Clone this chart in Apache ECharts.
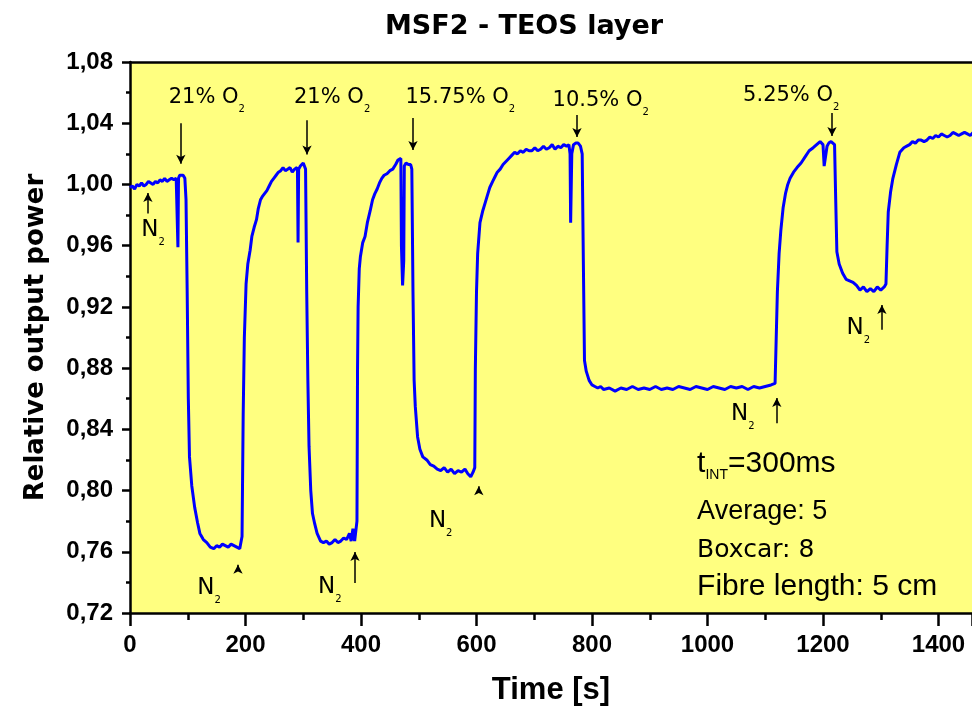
<!DOCTYPE html>
<html>
<head>
<meta charset="utf-8">
<script src="https://cdn.jsdelivr.net/npm/echarts@6/dist/echarts.min.js"></script>
<style>
  html, body { margin: 0; padding: 0; background: #fff; }
  #main { width: 972px; height: 713px; }
</style>
</head>
<body>
<div id="main"></div>
<script>
// time [s] and relative output power
var time = [
  0, 4, 8, 12, 16, 20, 24, 28, 32, 36, 40, 44, 48, 52, 56, 60, 64, 68, 72, 76, 80, 82, 83, 84, 86, 89, 92, 95,
  97, 99, 101, 103, 107, 112, 117, 121, 127, 133, 139, 145, 150, 155, 160, 165, 170, 175, 180, 185, 190, 192,
  194, 196, 198, 201, 204, 208, 211, 215, 219, 222, 226, 229, 233, 237, 241, 245, 249, 253, 257, 261, 265, 269,
  273, 277, 281, 285, 289, 290, 291, 292, 295, 298, 300, 302, 304,
  306, 308, 310, 313, 316, 320, 324, 330, 335, 340, 345, 350, 355, 360, 365, 370, 375, 380, 383, 386, 389, 392,
  393, 394, 395, 397, 399, 403, 407, 411, 416, 420, 424, 428, 432, 436, 440, 445, 450, 455, 460, 464, 467, 469,
  470, 472, 474, 475, 478, 482, 486, 488,
  490, 492, 494, 498, 502, 507, 514, 520, 526, 532, 538, 544, 550, 556, 562, 568, 574, 580, 585, 590, 594, 597,
  598, 600, 602, 606, 611, 615, 619, 623, 628, 632, 636, 641, 646, 651, 656, 661, 666, 671, 676, 681, 686, 691,
  696, 701, 706, 711, 716, 721, 726, 731, 736, 741, 746, 751, 756, 760, 762, 763, 765, 768, 772, 776, 780,
  783, 785, 787, 790, 795, 800, 805, 810, 815, 820, 830, 840, 850, 860, 870, 880, 890, 900, 910, 920, 930, 940,
  950, 960, 970, 980, 990, 1000, 1010, 1020, 1030, 1040, 1050, 1060, 1070, 1080, 1090, 1100, 1110, 1117,
  1119, 1121, 1124, 1127, 1131, 1135, 1139, 1143, 1149, 1155, 1162, 1169, 1176, 1183, 1189, 1195, 1200, 1202,
  1205, 1207, 1210, 1214, 1217, 1220,
  1222, 1224, 1228, 1234, 1240, 1246, 1252, 1258, 1264, 1270, 1276, 1282, 1288, 1294, 1300, 1306, 1309,
  1311, 1313, 1317, 1321, 1327, 1333, 1340, 1345, 1350, 1355, 1360, 1365, 1370, 1375, 1380, 1385, 1390, 1395,
  1400, 1405, 1410, 1415, 1420, 1425, 1430, 1435, 1440, 1445, 1450, 1455, 1460, 1470, 1480, 1490, 1500
];
var power = [
  0.998, 0.999, 0.997, 1.000, 0.999, 1.001, 0.999, 1.000, 1.002, 1.001, 1.000, 1.002, 1.001, 1.003, 1.002, 1.004, 1.002, 1.003, 1.004, 1.003, 1.004, 1.005, 0.959, 1.004, 1.006, 1.007, 1.006, 1.004,
  0.990, 0.930, 0.860, 0.822, 0.803, 0.789, 0.779, 0.772, 0.768, 0.766, 0.763, 0.762, 0.764, 0.763, 0.765, 0.764, 0.763, 0.765, 0.764, 0.763, 0.762, 0.761,
  0.770, 0.850, 0.900, 0.935, 0.948, 0.957, 0.966, 0.972, 0.977, 0.984, 0.990, 0.992, 0.994, 0.996, 0.999, 1.002, 1.004, 1.006, 1.008, 1.009, 1.011, 1.009,
  1.010, 1.011, 1.008, 1.010, 1.011, 1.009, 0.962, 1.010, 1.012, 1.013, 1.014, 1.012, 1.010,
  0.930, 0.872, 0.829, 0.800, 0.785, 0.778, 0.772, 0.767, 0.766, 0.767, 0.765, 0.766, 0.768, 0.766, 0.767, 0.769, 0.768, 0.772, 0.767, 0.775, 0.767, 0.766,
  0.780, 0.880, 0.920, 0.945, 0.953, 0.962, 0.966, 0.975, 0.983, 0.990, 0.994, 0.997, 1.001, 1.004, 1.006, 1.007, 1.009, 1.010, 1.013, 1.016, 1.015, 1.017,
  0.960, 0.934, 0.950, 1.012, 1.014, 1.013, 1.013, 1.010,
  0.930, 0.872, 0.855, 0.835, 0.827, 0.822, 0.820, 0.817, 0.816, 0.814, 0.813, 0.815, 0.812, 0.814, 0.811, 0.813, 0.812, 0.814, 0.811, 0.809, 0.812, 0.815,
  0.880, 0.930, 0.955, 0.975, 0.983, 0.988, 0.993, 0.998, 1.002, 1.005, 1.008, 1.010, 1.013, 1.015, 1.017, 1.019, 1.021, 1.020, 1.022, 1.021, 1.023, 1.022,
  1.022, 1.024, 1.022, 1.023, 1.025, 1.023, 1.024, 1.026, 1.023, 1.025, 1.024, 1.026, 1.025, 1.026, 1.020, 0.975, 1.020, 1.026, 1.027, 1.027, 1.025,
  1.020, 0.950, 0.885, 0.878, 0.872, 0.869, 0.868, 0.867, 0.868, 0.866, 0.867, 0.865, 0.867, 0.866, 0.868, 0.866, 0.867, 0.866, 0.868, 0.866, 0.867, 0.866,
  0.868, 0.867, 0.866, 0.868, 0.867, 0.866, 0.868, 0.867, 0.866, 0.868, 0.867, 0.868, 0.866, 0.868, 0.867, 0.868, 0.869, 0.870,
  0.900, 0.930, 0.955, 0.970, 0.985, 0.994, 1.000, 1.004, 1.008, 1.011, 1.014, 1.018, 1.022, 1.024, 1.026, 1.028, 1.026, 1.012,
  1.012, 1.025, 1.027, 1.028, 1.029, 1.026,
  0.990, 0.956, 0.948, 0.942, 0.938, 0.937, 0.936, 0.934, 0.931, 0.933, 0.930, 0.932, 0.930, 0.933, 0.931, 0.933, 0.935,
  0.960, 0.982, 0.995, 1.004, 1.013, 1.021, 1.024, 1.025, 1.026, 1.028, 1.027, 1.029, 1.029, 1.028, 1.029, 1.031, 1.030, 1.032,
  1.031, 1.033, 1.032, 1.031, 1.032, 1.034, 1.033, 1.032, 1.033, 1.034, 1.033, 1.032, 1.034, 1.033, 1.034, 1.033, 1.034
];

// annotations: [t, y, text, fontSize] in data units
var gasLabels = [
  [133, 1.057, '21% O{s|2}', 21],
  [350, 1.057, '21% O{s|2}', 21],
  [572, 1.057, '15.75% O{s|2}', 21],
  [815, 1.055, '10.5% O{s|2}', 21],
  [1145, 1.058, '5.25% O{s|2}', 21],
  [40, 0.970, 'N{s|2}', 23],
  [137, 0.736, 'N{s|2}', 23],
  [346, 0.737, 'N{s|2}', 23],
  [538, 0.780, 'N{s|2}', 23],
  [1061, 0.850, 'N{s|2}', 23],
  [1261, 0.906, 'N{s|2}', 23]
];
// arrows: [t, yFrom, yTo]
var arrows = [
  [88, 1.040, 1.0135],
  [306.5, 1.042, 1.0195],
  [490, 1.0434, 1.0225],
  [774, 1.0454, 1.031],
  [1215.6, 1.0467, 1.0317],
  [31, 0.981, 0.9944],
  [187, 0.7480, 0.7515],
  [389.6, 0.7396, 0.7599],
  [604, 0.7995, 0.8028],
  [1120, 0.844, 0.8605],
  [1302, 0.905, 0.9212]
];
// [t, y, text, fontSize, font]
var infoLines = [
  [982, 0.8178, 't{s|INT}=300ms', 30, 'Liberation Sans'],
  [982, 0.7862, 'Average: 5', 27, 'Liberation Sans'],
  [982, 0.7608, 'Boxcar: 8', 25, 'DejaVu Sans'],
  [982, 0.7370, 'Fibre length: 5 cm', 30, 'Liberation Sans']
];

var chart = echarts.init(document.getElementById('main'));

var labelPoints = gasLabels.map(function (g) {
  return {
    coord: [g[0], g[1]],
    label: {
      show: true, position: 'inside', formatter: g[2],
      color: '#000', fontSize: g[3], fontFamily: 'DejaVu Sans',
      rich: { s: { fontSize: 10, padding: [24, 0, 0, 0], fontFamily: 'DejaVu Sans' } }
    }
  };
});
var infoPoints = infoLines.map(function (g) {
  return {
    coord: [g[0], g[1]],
    label: {
      show: true, position: 'inside', align: 'left', formatter: g[2],
      color: '#000', fontSize: g[3], fontFamily: g[4],
      rich: { s: { fontSize: 14, padding: [24, 0, 0, 0], fontFamily: 'Liberation Sans' } }
    }
  };
});

var option = {
  animation: false,
  backgroundColor: '#fff',
  title: {
    text: 'MSF2 - TEOS layer',
    left: 519,
    textAlign: 'center',
    top: 8,
    textStyle: { color: '#000', fontSize: 27, fontWeight: 'bold', fontFamily: 'DejaVu Sans' }
  },
  grid: {
    left: 130, top: 62, right: 0, bottom: 100,
    show: true, backgroundColor: '#ffff80', borderWidth: 0
  },
  xAxis: [{
    type: 'value',
    // the plot is cut at the right edge of the picture, a little before 1500
    min: 0, max: 1458, interval: 200,
    name: 'Time [s]',
    nameLocation: 'middle',
    nameGap: 62,
    nameTextStyle: { color: '#000', fontSize: 31, fontWeight: 'bold', fontFamily: 'Liberation Sans' },
    axisLine: { show: true, lineStyle: { color: '#000', width: 2.5 } },
    axisTick: { show: true, inside: false, length: 13, lineStyle: { color: '#000', width: 2.5 } },
    minorTick: { show: true, splitNumber: 2, length: 7, lineStyle: { color: '#000', width: 2.5 } },
    splitLine: { show: false },
    axisLabel: {
      margin: 20, showMaxLabel: false,
      color: '#000', fontWeight: 'bold', fontSize: 24, fontFamily: 'Liberation Sans',
      formatter: function (v) { return String(v); }
    }
  }, {
    // top frame line
    type: 'value', position: 'top', min: 0, max: 1458,
    axisLine: { show: true, onZero: false, lineStyle: { color: '#000', width: 2.5 } },
    axisTick: { show: false }, axisLabel: { show: false }, splitLine: { show: false }
  }],
  yAxis: {
    type: 'value',
    min: 0.72, max: 1.08, interval: 0.04,
    name: 'Relative output power',
    nameLocation: 'middle',
    nameGap: 81,
    nameTextStyle: { color: '#000', fontSize: 26, fontWeight: 'bold', fontFamily: 'DejaVu Sans' },
    axisLine: { show: true, lineStyle: { color: '#000', width: 2.5 } },
    axisTick: { show: true, inside: false, length: 8, lineStyle: { color: '#000', width: 2.5 } },
    minorTick: { show: true, splitNumber: 2, length: 4, lineStyle: { color: '#000', width: 2.5 } },
    splitLine: { show: false },
    axisLabel: {
      margin: 17,
      color: '#000', fontWeight: 'bold', fontSize: 24, fontFamily: 'Liberation Sans',
      formatter: function (v) { return v.toFixed(2).replace('.', ','); }
    }
  },
  series: [
    {
      name: 'power',
      type: 'line',
      data: time.map(function (t, i) { return [t, power[i]]; }),
      showSymbol: false,
      symbol: 'none',
      lineStyle: { color: '#0000ff', width: 3 },
      clip: true
    },
    {
      name: 'notes',
      type: 'line',
      data: [],
      markPoint: {
        symbol: 'circle', symbolSize: 0, silent: true,
        data: labelPoints.concat(infoPoints)
      },
      markLine: {
        silent: true,
        symbol: ['none', 'arrow'],
        symbolSize: [7, 9],
        lineStyle: { color: '#000', width: 1.5, type: 'solid' },
        label: { show: false },
        data: arrows.map(function (a) {
          return [{ coord: [a[0], a[1]] }, { coord: [a[0], a[2]] }];
        })
      }
    }
  ]
};

chart.setOption(option);
</script>
</body>
</html>
